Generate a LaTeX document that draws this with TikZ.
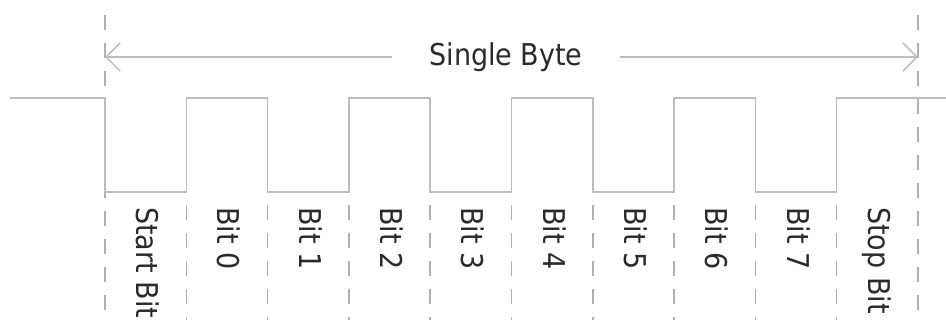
\documentclass[tikz,border=0pt]{standalone}
\usepackage{fontspec}
\setmainfont{DejaVu Sans Condensed}
\usetikzlibrary{arrows.meta}
\definecolor{wire}{HTML}{BDBDBD}
\definecolor{dash}{HTML}{B0B0B0}
\definecolor{ink}{HTML}{2A2A2A}
\tikzset{
  wave/.style={draw=wire, line width=1.5pt},
  divider/.style={draw=dash, line width=1.5pt, dash pattern=on 15pt off 13pt},
  span/.style={draw=wire, line width=1.5pt, {Straight Barb[length=14pt,width=28pt]}-{Straight Barb[length=14pt,width=28pt]}},
  title/.style={fill=white, text=ink, font=\fontsize{30}{36}\selectfont, inner xsep=37pt, inner ysep=2pt},
  bitlabel/.style={rotate=-90, anchor=west, text=ink, font=\fontsize{30}{36}\selectfont, text height=22pt, text depth=0pt, inner sep=0pt}
}
\begin{document}
\begin{tikzpicture}[x=1pt,y=-1pt]
\useasboundingbox (0,0) rectangle (946,320);
\def\w{81.3}
% outer dividers
\coordinate (LT) at (105,15);
\coordinate (LB) at (105,320);
\coordinate (RT) at (918,15);
\coordinate (RB) at (918,320);
\draw[divider] (LT) -- (LB);
\draw[divider] (RT) -- (RB);
% inner dividers
\foreach \i in {1,...,9} {
  \coordinate (dt\i) at ({105+\i*\w},205);
  \coordinate (db\i) at ({105+\i*\w},320);
  \draw[divider] (dt\i) -- (db\i);
}
% span arrow
\coordinate (AL) at (105,57);
\coordinate (AR) at (918,57);
\draw[span] (AL) -- (AR);
\node[title] (T) at (506,57) {Single Byte};
% waveform
\coordinate (w0) at (10,98);
\draw[wave] (w0) -- (105,98) -- (105,192)
  -- ({105+1*\w},192) -- ({105+1*\w},98)
  -- ({105+2*\w},98) -- ({105+2*\w},192)
  -- ({105+3*\w},192) -- ({105+3*\w},98)
  -- ({105+4*\w},98) -- ({105+4*\w},192)
  -- ({105+5*\w},192) -- ({105+5*\w},98)
  -- ({105+6*\w},98) -- ({105+6*\w},192)
  -- ({105+7*\w},192) -- ({105+7*\w},98)
  -- ({105+8*\w},98) -- ({105+8*\w},192)
  -- ({105+9*\w},192) -- ({105+9*\w},98)
  -- (946,98);
% labels
\foreach \i/\t in {0/Start Bit,1/Bit 0,2/Bit 1,3/Bit 2,4/Bit 3,5/Bit 4,6/Bit 5,7/Bit 6,8/Bit 7,9/Stop Bit} {
  \node[bitlabel] (L\i) at ({105+(\i+0.5)*\w+2},207) {\t};
}
\end{tikzpicture}
\end{document}
